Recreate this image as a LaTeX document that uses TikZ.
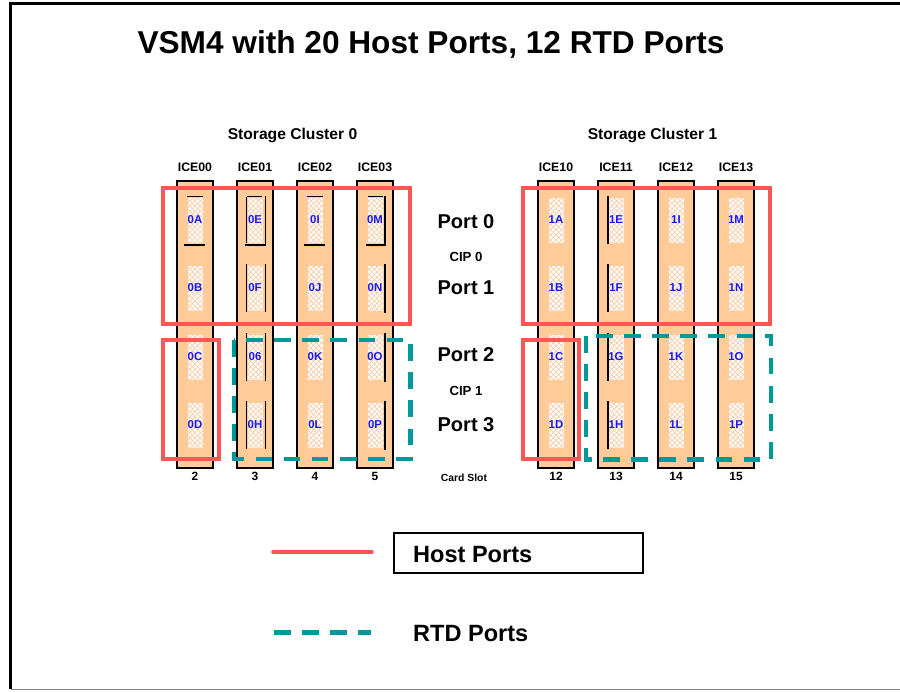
\documentclass[tikz,border=0pt]{standalone}
\usepackage{fontspec}
\setmainfont{Liberation Sans}
\usetikzlibrary{patterns,positioning}

\definecolor{cardfill}{RGB}{255,204,153}
\definecolor{hatchcol}{RGB}{248,205,168}
\definecolor{hostred}{RGB}{255,85,85}
\definecolor{rtdteal}{RGB}{0,153,153}
\definecolor{lblblue}{RGB}{25,25,245}

\begin{document}
\begin{tikzpicture}[%
    x=0.02cm, y=-0.02cm,
    title/.style={font=\fontsize{18pt}{20pt}\selectfont\bfseries},
    clusterlbl/.style={font=\fontsize{8.9pt}{10pt}\selectfont\bfseries, anchor=base},
    icelbl/.style={font=\fontsize{7pt}{8pt}\selectfont\bfseries},
    portname/.style={font=\fontsize{11.4pt}{13pt}\selectfont\bfseries},
    ciplbl/.style={font=\fontsize{7.5pt}{9pt}\selectfont\bfseries},
    slotlbl/.style={font=\fontsize{6.8pt}{8pt}\selectfont\bfseries},
    card/.style={%
        draw,
        line width=1.6pt,
        fill=cardfill,
        minimum width=0.72cm,
        minimum height=5.74cm,
        inner sep=0pt,
    },
    win/.style={%
        preaction={fill=white},
        pattern=crosshatch,
        pattern color=hatchcol,
        minimum width=0.3cm,
        minimum height=0.9cm,
        inner sep=0pt,
    },
    portlbl/.style={font=\fontsize{6.5pt}{8pt}\selectfont\bfseries, text=lblblue, inner sep=0pt},
    tick/.style={line width=0.6pt},
    hostbox/.style={draw=hostred, line width=2pt},
    rtdbox/.style={draw=rtdteal, line width=2.3pt, dash pattern=on 9.5pt off 6.5pt},
    legtxt/.style={font=\fontsize{13.4pt}{15pt}\selectfont\bfseries},
]
\useasboundingbox (0,0) rectangle (900,691);

% 外框
\draw[line width=1.9pt] (10.5,689) -- (10.5,3.3) -- (900,3.3);
\draw[gray, line width=0.8pt] (10.5,689.5) -- (900,689.5);

\node[title] (ttl) at (431,44.5) {VSM4 with 20 Host Ports, 12 RTD Ports};

\node[clusterlbl] (sc0) at (292.5,139.5) {Storage Cluster 0};
\node[clusterlbl] (sc1) at (652.5,139.5) {Storage Cluster 1};

% 卡槽
\foreach \ice/\slot/\x in {ICE00/2/195, ICE01/3/255, ICE02/4/315, ICE03/5/375,
                          ICE10/12/556, ICE11/13/616, ICE12/14/676, ICE13/15/736} {
    \node[card] (\ice) at (\x,324.5) {};
    \node[icelbl] (l\ice) at (\x,167.5) {\ice};
    \node[slotlbl] (s\ice) at (\x,476.5) {\slot};
}

% 端口
\foreach \n/\x/\y in {0A/195/220, 0B/195/288, 0C/195/357, 0D/195/425,
                      0E/255/220, 0F/255/288, 06/255/357, 0H/255/425,
                      0I/315/220, 0J/315/288, 0K/315/357, 0L/315/425,
                      0M/375/220, 0N/375/288, 0O/375/357, 0P/375/425,
                      1A/556/220, 1B/556/288, 1C/556/357, 1D/556/425,
                      1E/616/220, 1F/616/288, 1G/616/357, 1H/616/425,
                      1I/676/220, 1J/676/288, 1K/676/357, 1L/676/425,
                      1M/736/220, 1N/736/288, 1O/736/357, 1P/736/425} {
    \node[win, label={[portlbl]center:\n}] (p\n) at (\x,\y) {};
}

% 细线
\foreach \x in {195,315} {
    \draw[tick] (\x-8,196.5) -- (\x+8,196.5);
    \draw[tick] (\x-11,245) -- (\x+10,245);
}
\draw[tick] (247,196.5) -- (262,196.5);
\draw[tick] (245,245) -- (265.5,245);
\draw[tick] (246.5,197) -- (246.5,243);
\draw[tick] (265.5,195.5) -- (265.5,246);
\draw[tick] (368,196.5) -- (383,196.5);
\draw[tick] (366,245) -- (386,245);
\foreach \y in {220,288,357,425} {
    \draw[tick] (385,\y-24.5) -- (385,\y+25);
    \draw[tick] (608,\y-24) -- (608,\y+24);
}
\foreach \y in {288,357,425} {
    \draw[tick] (246.5,\y-24) -- (246.5,\y+24);
    \draw[tick] (265.5,\y-24) -- (265.5,\y+24);
}

% 中间标签
\node[portname] (pt0) at (466,222) {Port 0};
\node[ciplbl] (cip0) at (466,256.5) {CIP 0};
\node[portname] (pt1) at (466,288) {Port 1};
\node[portname] (pt2) at (466,355) {Port 2};
\node[ciplbl] (cip1) at (466,391) {CIP 1};
\node[portname] (pt3) at (466,424.5) {Port 3};
\node[font=\fontsize{5.9pt}{7pt}\selectfont\bfseries] (cslot) at (464,478) {Card Slot};

% Host / RTD 框
\draw[hostbox] (163,188) rectangle (410,324);
\draw[hostbox] (163,340) rectangle (219,459);
\draw[hostbox] (523,188) rectangle (770,324);
\draw[hostbox] (523,340) rectangle (579,459);
\draw[rtdbox] (234,340) rectangle (410.5,459);
\draw[rtdbox] (586,336) rectangle (771,459.5);

% 图例
\draw[hostbox, line cap=round] (273,552) -- (372,552);
\node[draw, line width=0.7pt, minimum width=4.98cm, minimum height=0.8cm] (hostlegbox) at (518.5,553) {};
\node[legtxt, anchor=west] (hostleg) at (407,554.5) {Host Ports};
\draw[rtdbox] (274,632.5) -- (371,632.5);
\node[legtxt, anchor=west] (rtdleg) at (407,634) {RTD Ports};

\end{tikzpicture}
\end{document}
